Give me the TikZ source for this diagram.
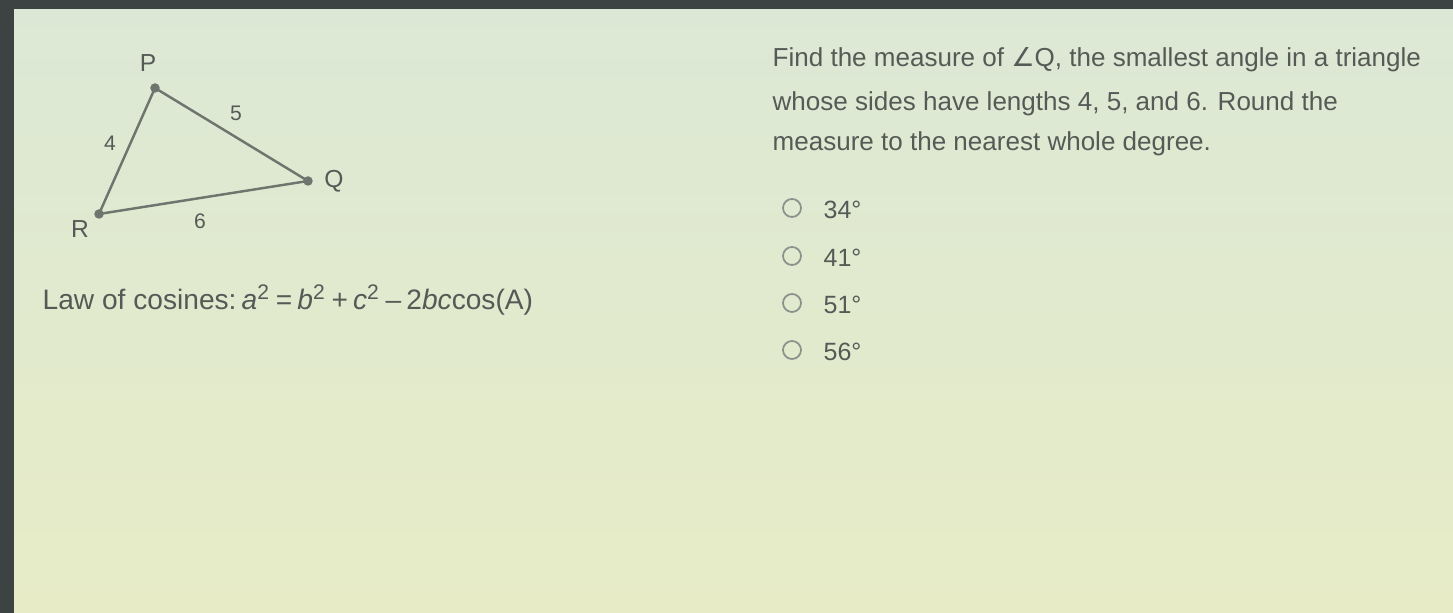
\documentclass[tikz,border=0pt]{standalone}
\usepackage{fontspec}
\setmainfont{Liberation Sans}
\newfontfamily\symfont{DejaVu Sans}
\definecolor{bgtop}{HTML}{DCE8D6}
\definecolor{bgbot}{HTML}{E7ECC6}
\definecolor{txt}{HTML}{555A56}
\definecolor{edge}{HTML}{6E756E}
\definecolor{frame}{HTML}{3D4342}
\newcommand{\tsp}{\hspace{0.18em}}
\begin{document}
\begin{tikzpicture}[x=0.01cm,y=-0.01cm,
  lbl/.style={text=txt,font=\fontsize{7pt}{8pt}\selectfont,inner sep=0pt},
  num/.style={text=txt,font=\fontsize{6pt}{7pt}\selectfont,inner sep=0pt},
  body/.style={text=txt,font=\fontsize{7.4pt}{8pt}\selectfont,inner sep=0pt,anchor=west},
  vtx/.style={circle,fill=edge,minimum size=0.95mm,inner sep=0pt},
  side/.style={draw=edge,line width=0.7pt},
  radio/.style={circle,draw=edge!80,line width=0.5pt,minimum size=18pt*0.2845,inner sep=0pt}]
\useasboundingbox (0,0) rectangle (1453,613);
\shade[top color=bgtop,bottom color=bgbot] (0,0) rectangle (1453,613);
\fill[frame] (0,0) rectangle (1453,9);
\fill[frame] (0,0) rectangle (14,613);
% triangle
\node[vtx] (P) at (155,88) {};
\node[vtx] (Q) at (308,181) {};
\node[vtx] (R) at (99,214) {};
\draw[side] (P.center) -- (Q.center) -- (R.center) -- cycle;
\node[lbl] (lP) at (148,63) {P};
\node[lbl] (lQ) at (334,181) {Q};
\node[lbl] (lR) at (80,229) {R};
\node[num] (s4) at (110,143) {4};
\node[num] (s5) at (236,113) {5};
\node[num] (s6) at (200,221) {6};
% law of cosines
\node[body,font=\fontsize{8pt}{9pt}\selectfont] (law) at (42,300) {Law of cosines:\tsp\textit{a}\textsuperscript{2}\tsp=\tsp\textit{b}\textsuperscript{2}\tsp+\tsp\textit{c}\textsuperscript{2}\tsp--\tsp2\textit{bc}cos(A)};
% question
\node[body] (q1) at (772,60) {Find the measure of {\symfont∠}Q, the smallest angle in a triangle};
\node[body] (q2) at (772,104) {whose sides have lengths 4, 5, and 6. Round the};
\node[body] (q3) at (772,144) {measure to the nearest whole degree.};
% answers
\node[radio] (r1) at (792,208) {};
\node[radio] (r2) at (792,256) {};
\node[radio] (r3) at (792,303) {};
\node[radio] (r4) at (792,350) {};
\node[body,font=\fontsize{7.1pt}{8pt}\selectfont] (a1) at (823,210) {34°};
\node[body,font=\fontsize{7.1pt}{8pt}\selectfont] (a2) at (823,258) {41°};
\node[body,font=\fontsize{7.1pt}{8pt}\selectfont] (a3) at (823,305) {51°};
\node[body,font=\fontsize{7.1pt}{8pt}\selectfont] (a4) at (823,352) {56°};
\end{tikzpicture}
\end{document}
